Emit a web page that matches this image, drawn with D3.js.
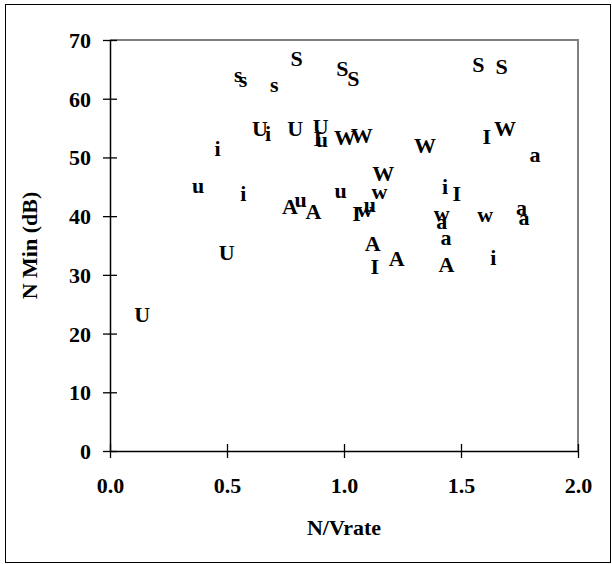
<!DOCTYPE html>
<html><head><meta charset="utf-8">
<script src="https://cdn.jsdelivr.net/npm/d3@7/dist/d3.min.js"></script>
<style>body{margin:0;background:#fff}svg{display:block}text{font-family:"Liberation Serif","Times New Roman",serif;font-weight:bold;fill:#000}</style>
</head><body><svg id="c" width="612" height="564"></svg>
<script>
// data: [N/Vrate, N Min (dB)] per marker letter
const S_pts = [[0.798,66.8],[0.993,65.2],[1.040,63.5],[1.574,65.8],[1.674,65.5]];
const s_pts = [[0.548,64.1],[0.568,63.3],[0.702,62.4]];
const U_pts = [[0.641,55.0],[0.791,55.0],[0.900,55.2],[0.499,33.8],[0.138,23.3]];
const u_pts = [[0.905,53.1],[0.377,45.3],[0.815,42.8],[0.986,44.3],[1.111,42.0]];
const I_pts = [[0.888,53.3],[1.610,53.5],[1.482,43.9],[1.054,40.5],[1.132,31.4]];
const i_pts = [[0.676,54.1],[0.460,51.6],[0.570,43.9],[1.432,45.1],[1.638,33.0]];
const A_pts = [[0.769,41.7],[0.869,40.8],[1.123,35.3],[1.225,32.7],[1.438,31.7]];
const a_pts = [[1.816,50.5],[1.418,39.1],[1.759,41.4],[1.769,39.7],[1.436,36.3]];
const W_pts = [[1.004,53.4],[1.076,53.8],[1.346,52.0],[1.688,55.0],[1.168,47.3]];
const w_pts = [[1.151,44.2],[1.090,41.1],[1.418,40.5],[1.603,40.3]];
const seriesLetters = ["S","s","U","u","I","i","A","a","W","w"];
const seriesData = [S_pts,s_pts,U_pts,u_pts,I_pts,i_pts,A_pts,a_pts,W_pts,w_pts];
const xTicks = [0,0.5,1.0,1.5,2.0];
const yTicks = [0,10,20,30,40,50,60,70];
const xTitle = "N/Vrate", yTitle = "N Min (dB)";

const svg = d3.select("#c");
const L=110,R=578,T=40,B=451;
const x = d3.scaleLinear().domain([0,2]).range([L,R]);
const y = d3.scaleLinear().domain([0,70]).range([B,T]);

svg.append("rect").attr("x",5.5).attr("y",4.5).attr("width",605).attr("height",558)
  .attr("fill","none").attr("stroke","#000").attr("stroke-width",1);
svg.append("path").attr("d",`M${L},${T}H${R}V${B}`).attr("fill","none").attr("stroke","#808080").attr("stroke-width",2);

const ax = svg.append("g").attr("transform",`translate(0,${B})`)
  .call(d3.axisBottom(x).tickValues(xTicks).tickFormat(d3.format(".1f")).tickSizeInner(7).tickSizeOuter(0).tickPadding(20));
ax.selectAll(".tick line").attr("y1",-7).attr("y2",7);
const ay = svg.append("g").attr("transform",`translate(${L},0)`)
  .call(d3.axisLeft(y).tickValues(yTicks).tickSizeInner(7).tickSizeOuter(0).tickPadding(12));
ay.selectAll(".tick line").attr("x1",-7).attr("x2",7);
[ax,ay].forEach(g=>{
  g.select(".domain").attr("stroke","#000").attr("stroke-width",1.5);
  g.selectAll(".tick line").attr("stroke","#000").attr("stroke-width",1.3);
  g.selectAll(".tick text").style("font-size","22px").style("font-family","Liberation Serif").style("font-weight","bold").attr("fill","#000");
});
ay.selectAll(".tick text").attr("dy","0.34em");
ax.selectAll(".tick text").attr("dy","0.68em");

svg.append("text").attr("x",(L+R)/2).attr("y",535).attr("text-anchor","middle").style("font-size","22px").text(xTitle);
svg.append("text").attr("transform",`translate(37,${(T+B)/2}) rotate(-90)`).attr("text-anchor","middle").style("font-size","22px").text(yTitle);

const g = svg.append("g");
seriesData.forEach((pts,k)=>{
  g.selectAll(null).data(pts).join("text")
    .attr("x",d=>x(d[0])).attr("y",d=>y(d[1])).attr("dy","0.34em")
    .attr("text-anchor","middle").style("font-size","22px")
    .text(seriesLetters[k]);
});
</script></body></html>
